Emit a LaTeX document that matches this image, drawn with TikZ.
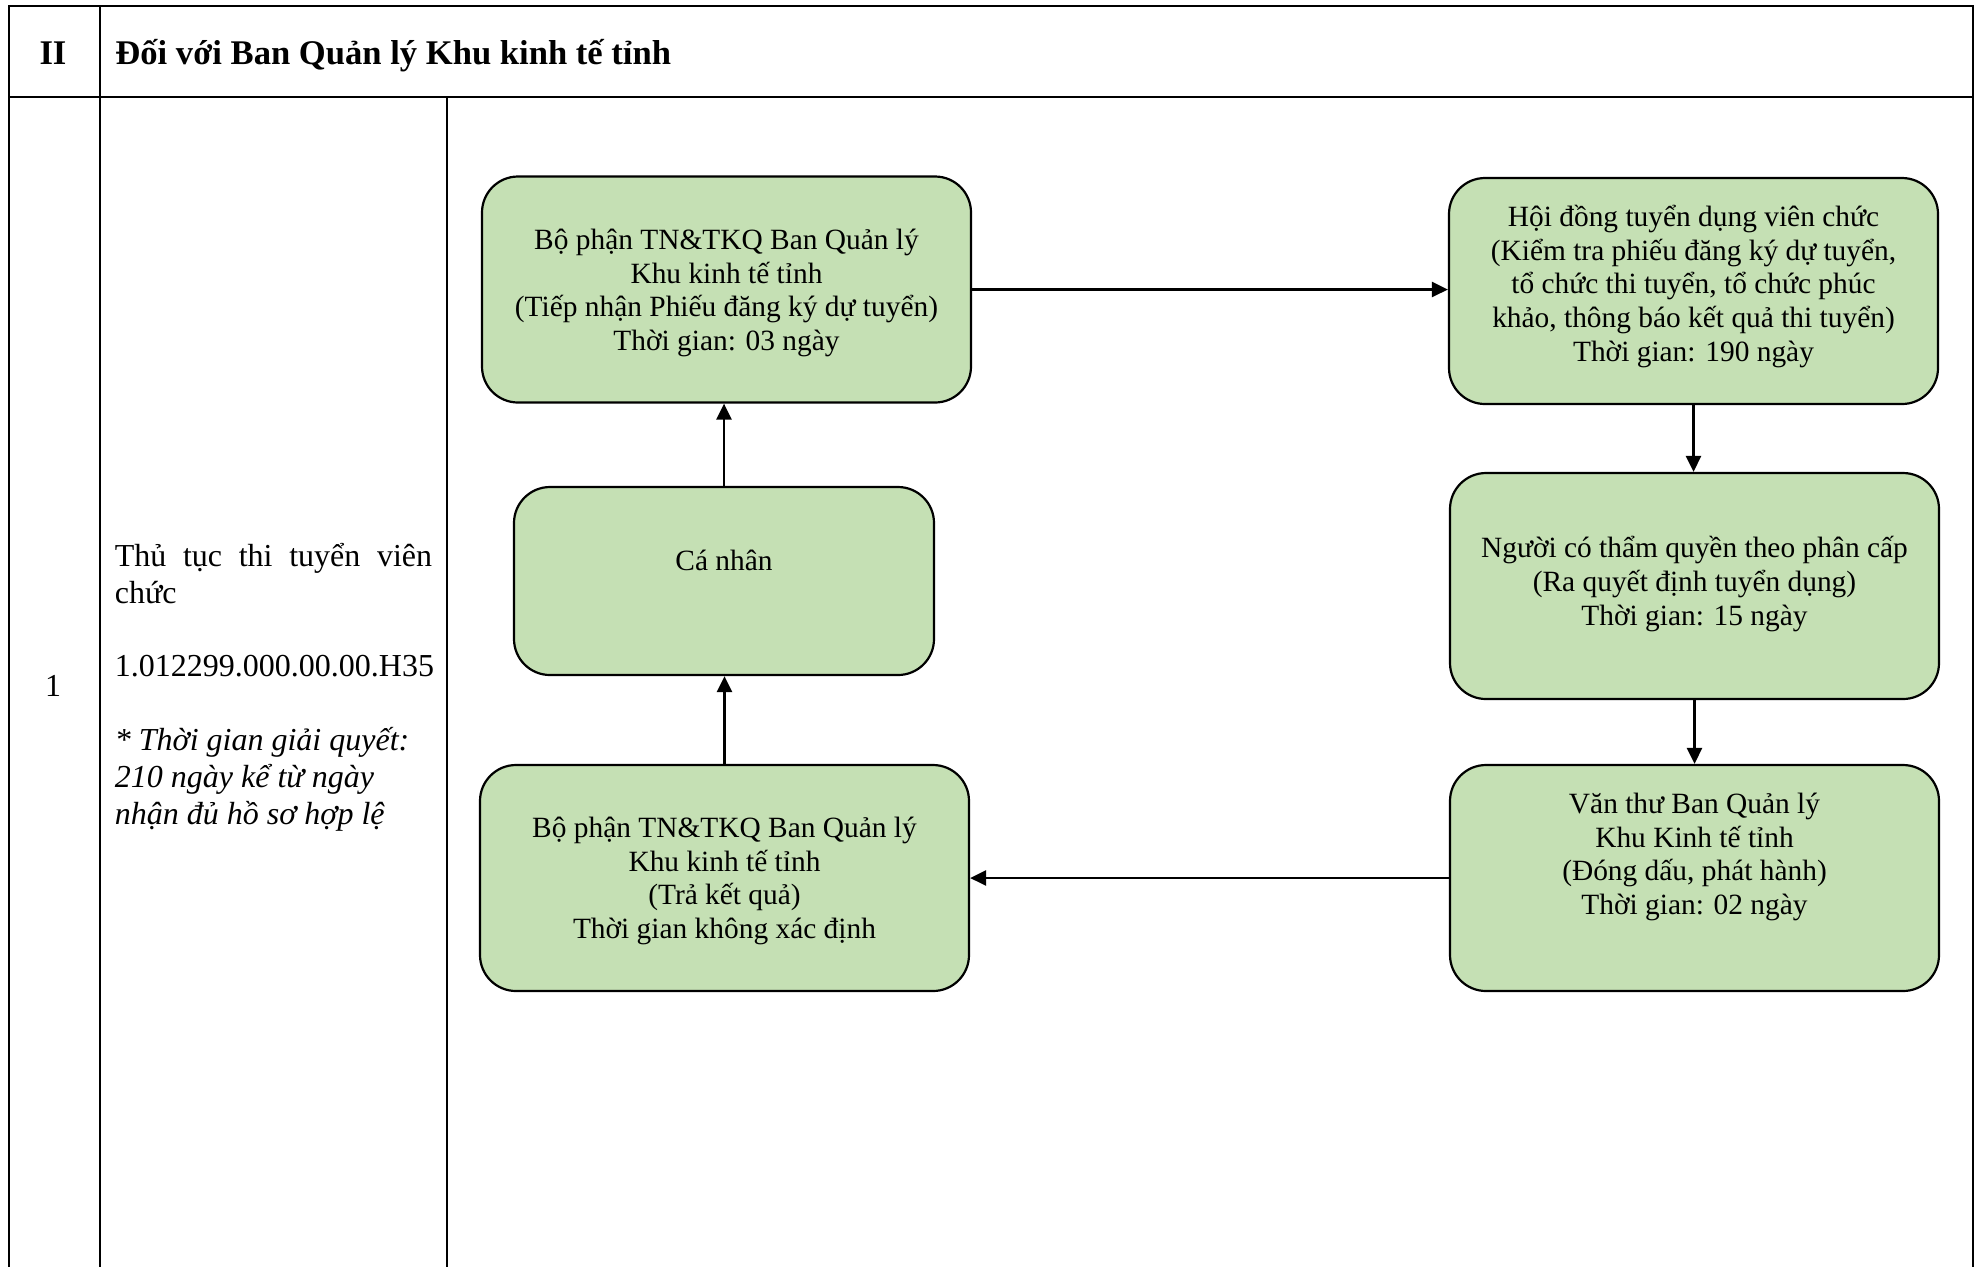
\documentclass[tikz,border=0pt]{standalone}
\usepackage{fontspec}
\setmainfont{Liberation Serif}
\usetikzlibrary{arrows.meta}
\definecolor{boxgreen}{RGB}{197,224,180}
\tikzset{
  gridline/.style={line width=1.2pt, line cap=rect},
  flowbox/.style={draw=black, line width=1.1pt, fill=boxgreen, rounded corners=18pt, inner sep=0pt},
  wbox/.style={flowbox, minimum width=244.5pt, minimum height=113pt},
  boxtext/.style={align=center, inner sep=0pt, font=\fontsize{14.7pt}{16.9pt}\selectfont},
  flow/.style={line width=1.3pt, -{Triangle[length=8pt,width=7.5pt]}},
  celltext/.style={inner sep=0pt, font=\fontsize{16pt}{18.4pt}\selectfont}
}
\begin{document}
\begin{tikzpicture}[x=0.5pt,y=-0.5pt]
\useasboundingbox (0,0) rectangle (1982,1266);
% table
\draw[gridline] (9,1266) -- (9,6) -- (1973,6) -- (1973,1266);
\draw[gridline] (9,97) -- (1973,97);
\draw[gridline] (100,6) -- (100,1266);
\draw[gridline] (447,97) -- (447,1266);
% header
\node[celltext, anchor=base, font=\bfseries\fontsize{17.3pt}{20pt}\selectfont] (sec) at (53,64) {II};
\node[celltext, anchor=base west, font=\bfseries\fontsize{17.3pt}{20pt}\selectfont] (title) at (115,64) {Đối với Ban Quản lý Khu kinh tế tỉnh};
% row 1
\node[celltext, anchor=base] (num) at (53,696) {1};
\node[celltext, text width=158.6pt, align=justify] (proc) at (273.5,687)
 {\hyphenpenalty=10000 Thủ tục thi tuyển viên chức\par
  \vspace{18.4pt}
  1.012299.000.00.00.H35\par
  \vspace{18.4pt}
  \textit{* Thời gian giải quyết:\\210 ngày kể từ ngày\\nhận đủ hồ sơ hợp lệ}};
% boxes
\node[wbox] (b1) at (726.5,289.5) {};
\node[wbox] (b2) at (1693.5,291) {};
\node[flowbox, minimum width=210pt, minimum height=94pt] (b3) at (724,581) {};
\node[wbox] (b4) at (1694.5,586) {};
\node[wbox] (b5) at (1694.5,878) {};
\node[wbox] (b6) at (724.5,878) {};
% box texts
\node[boxtext] (t1) at (726.5,293) {Bộ phận TN\&TKQ Ban Quản lý\\Khu kinh tế tỉnh\\(Tiếp nhận Phiếu đăng ký dự tuyển)\\Thời gian: 03 ngày};
\node[boxtext] (t2) at (1693.5,286.5) {Hội đồng tuyển dụng viên chức\\(Kiểm tra phiếu đăng ký dự tuyển,\\tổ chức thi tuyển, tổ chức phúc\\khảo, thông báo kết quả thi tuyển)\\Thời gian: 190 ngày};
\node[boxtext] (t3) at (724,560) {Cá nhân};
\node[boxtext] (t4) at (1694.5,584) {Người có thẩm quyền theo phân cấp\\(Ra quyết định tuyển dụng)\\Thời gian: 15 ngày};
\node[boxtext] (t5) at (1694.5,857) {Văn thư Ban Quản lý\\Khu Kinh tế tỉnh\\(Đóng dấu, phát hành)\\Thời gian: 02 ngày};
\node[boxtext] (t6) at (724.5,881) {Bộ phận TN\&TKQ Ban Quản lý\\Khu kinh tế tỉnh\\(Trả kết quả)\\Thời gian không xác định};
% connectors
\draw[flow] (b1.east) -- (b1.east -| b2.west);
\draw[flow] (b2.south) -- (b2.south |- b4.north);
\draw[flow] (b4.south) -- (b4.south |- b5.north);
\draw[flow] (b5.west) -- (b5.west -| b6.east);
\draw[flow] (b6.north) -- (b6.north |- b3.south);
\draw[flow] (b3.north) -- (b3.north |- b1.south);
\end{tikzpicture}
\end{document}
